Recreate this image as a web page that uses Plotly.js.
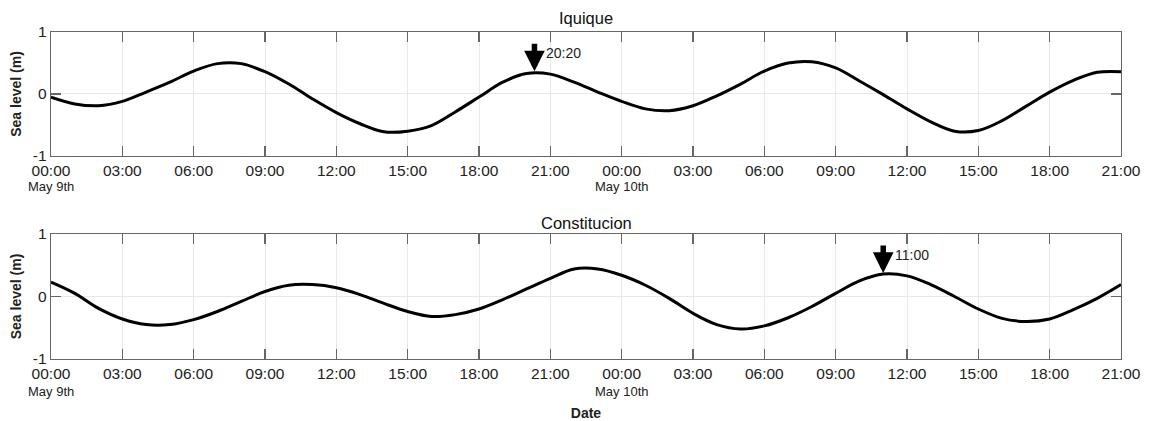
<!DOCTYPE html>
<html>
<head>
<meta charset="utf-8">
<script src="https://cdn.plot.ly/plotly-3.0.1.min.js"></script>
<style>html,body{margin:0;padding:0;background:#fff;}#chart{width:1150px;height:421px;}</style>
</head>
<body>
<div id="chart"></div>
<script>
// Hours since 2014-05-09 00:00
var hours = [0,1,2,3,4,5,6,7,8,9,10,11,12,13,14,15,16,17,18,19,20,21,22,23,24,25,26,27,28,29,30,31,32,33,34,35,36,37,38,39,40,41,42,43,44,45];
var iquique = [-0.05,-0.16,-0.19,-0.12,0.03,0.19,0.37,0.49,0.49,0.36,0.16,-0.08,-0.30,-0.48,-0.61,-0.60,-0.51,-0.29,-0.05,0.19,0.33,0.32,0.19,0.03,-0.12,-0.24,-0.27,-0.19,-0.03,0.16,0.37,0.50,0.52,0.42,0.21,-0.01,-0.24,-0.45,-0.60,-0.59,-0.43,-0.20,0.03,0.22,0.35,0.36];
var constitucion = [0.23,0.05,-0.19,-0.36,-0.45,-0.45,-0.37,-0.24,-0.08,0.08,0.18,0.19,0.14,0.03,-0.11,-0.24,-0.32,-0.29,-0.20,-0.05,0.12,0.29,0.44,0.44,0.34,0.18,-0.03,-0.27,-0.45,-0.52,-0.47,-0.34,-0.16,0.05,0.25,0.36,0.33,0.19,0.00,-0.20,-0.35,-0.40,-0.36,-0.21,-0.03,0.19];
var tickHours = [0,3,6,9,12,15,18,21,24,27,30,33,36,39,42,45];
var tickLabels = ["00:00","03:00","06:00","09:00","12:00","15:00","18:00","21:00","00:00","03:00","06:00","09:00","12:00","15:00","18:00","21:00"];
var dayHours = [0,24];
var dayLabels = ["May 9th","May 10th"];
var stationNames = ["Iquique","Constitucion"];
var markHours = [20 + 20/60, 11 + 24];
var markValues = [0.35, 0.36];
var markLabels = ["20:20","11:00"];

var font = "Arial, 'Liberation Sans', sans-serif";
function xax(anchor, showTitle){
  var a = {
    range:[0,45], tickvals:tickHours, ticktext:tickLabels, anchor:anchor,
    showgrid:true, gridcolor:'#e8e8e8', gridwidth:1,
    ticks:'inside', ticklen:10, tickcolor:'#666', tickwidth:1.3,
    showline:true, linecolor:'#666', linewidth:1.3, mirror:'ticks',
    zeroline:false, tickfont:{family:font,size:15.5,color:'#222'}, fixedrange:true
  };
  if(showTitle){ a.title = {text:'<b>Date</b>', font:{family:font,size:14,color:'#222'}, standoff:28}; }
  return a;
}
function yax(anchor, domain){
  return {
    range:[-1,1], tickvals:[-1,0,1], ticktext:['-1','0','1'], domain:domain, anchor:anchor,
    showgrid:true, gridcolor:'#e8e8e8', gridwidth:1,
    ticks:'inside', ticklen:10, tickcolor:'#666', tickwidth:1.3,
    showline:true, linecolor:'#666', linewidth:1.3, mirror:'ticks',
    zeroline:false, tickfont:{family:font,size:15.5,color:'#222'},
    title:{text:'<b>Sea level (m)</b>', font:{family:font,size:14,color:'#222'}, standoff:8},
    fixedrange:true
  };
}

var traces = [
  {x:hours, y:iquique, xaxis:'x', yaxis:'y', mode:'lines', line:{color:'#000', width:3, shape:'spline', smoothing:1}, hoverinfo:'none'},
  {x:hours, y:constitucion, xaxis:'x2', yaxis:'y2', mode:'lines', line:{color:'#000', width:3, shape:'spline', smoothing:1}, hoverinfo:'none'}
];

var annotations = [];
var axesX = ['x','x2'], axesY = ['y','y2'];
var titleY = [0.958, 0.47];
var dayY = [0.556, 0.0696];
for (var i=0;i<2;i++){
  annotations.push({xref:'paper', yref:'paper', x:0.5, y:titleY[i], text:stationNames[i], showarrow:false,
    font:{family:font,size:16.5,color:'#111'}, xanchor:'center', yanchor:'middle'});
  for (var d=0; d<dayHours.length; d++){
    annotations.push({xref:axesX[i], yref:'paper', x:dayHours[d], y:dayY[i], text:dayLabels[d], showarrow:false,
      font:{family:font,size:13,color:'#222'}, xanchor:'center', yanchor:'middle'});
  }
  annotations.push({xref:axesX[i], yref:axesY[i], x:markHours[i], y:markValues[i], ax:0, ay:-30, text:'',
    showarrow:true, arrowhead:2, arrowsize:0.75, arrowwidth:5.5, arrowcolor:'#000', standoff:1});
  annotations.push({xref:axesX[i], yref:axesY[i], x:markHours[i], y:markValues[i], text:markLabels[i], showarrow:false,
    xanchor:'left', yanchor:'middle', xshift:10, yshift:19, font:{family:font,size:14,color:'#222'}});
}

var layout = {
  width:1150, height:421,
  margin:{l:51, r:29, t:0, b:0},
  paper_bgcolor:'#fff', plot_bgcolor:'#fff',
  showlegend:false,
  xaxis:xax('y', false),
  yaxis:yax('x', [0.6295, 0.924]),
  xaxis2:xax('y2', true),
  yaxis2:yax('x2', [0.1473, 0.4442]),
  annotations:annotations
};
Plotly.newPlot('chart', traces, layout, {displayModeBar:false, staticPlot:true});
</script>
</body>
</html>
